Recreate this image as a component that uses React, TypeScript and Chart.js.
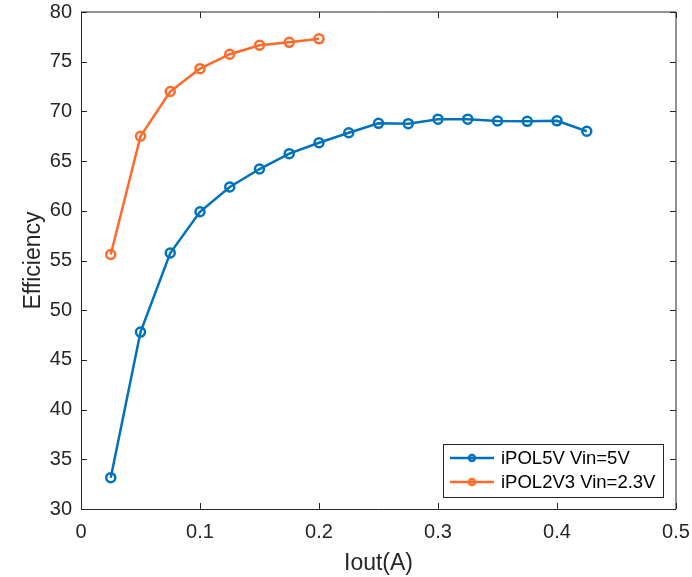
import React, { useEffect, useRef } from "react";
import { Chart, registerables } from "chart.js";

Chart.register(...registerables);

const xBlue = [0.025, 0.05, 0.075, 0.1, 0.125, 0.15, 0.175, 0.2, 0.225, 0.25, 0.275, 0.3, 0.325, 0.35, 0.375, 0.4, 0.425];
const effBlue = [33.15, 47.8, 55.75, 59.9, 62.4, 64.2, 65.75, 66.85, 67.85, 68.8, 68.77, 69.22, 69.22, 69.03, 69.0, 69.05, 68.0];
const xOrange = [0.025, 0.05, 0.075, 0.1, 0.125, 0.15, 0.175, 0.2];
const effOrange = [55.6, 67.5, 72.0, 74.3, 75.75, 76.65, 76.95, 77.3];

const seriesLabels = ["iPOL5V Vin=5V", "iPOL2V3 Vin=2.3V"];
const seriesColors = ["#0072BD", "#FF6A2B"];
const xTicks = [0, 0.1, 0.2, 0.3, 0.4, 0.5];
const yTicks = [30, 35, 40, 45, 50, 55, 60, 65, 70, 75, 80];
const xTitle = "Iout(A)";
const yTitle = "Efficiency";

const FONT = "'Liberation Sans', Arial, Helvetica, sans-serif";
const AX = "#262626";

const boxPlugin = {
  id: "matlabBox",
  afterDraw(chart: any) {
    const { ctx, chartArea } = chart;
    const { left, right, top, bottom } = chartArea;
    const xs = chart.scales.x;
    const ys = chart.scales.y;
    ctx.save();
    ctx.lineWidth = 1;
    ctx.strokeStyle = AX;
    ctx.beginPath();
    ctx.moveTo(Math.round(left) + 0.5, top);
    ctx.lineTo(Math.round(left) + 0.5, Math.round(bottom) + 0.5);
    ctx.lineTo(right, Math.round(bottom) + 0.5);
    ctx.stroke();
    ctx.beginPath();
    ctx.moveTo(left, Math.round(top));
    ctx.lineTo(Math.round(right), Math.round(top));
    ctx.lineTo(Math.round(right), bottom);
    ctx.stroke();
    const tl = 6;
    ctx.beginPath();
    xTicks.forEach((v) => {
      const px = Math.round(xs.getPixelForValue(v)) + 0.5;
      ctx.moveTo(px, bottom);
      ctx.lineTo(px, bottom - tl);
      ctx.moveTo(px, top);
      ctx.lineTo(px, top + tl);
    });
    yTicks.forEach((v) => {
      const py = Math.round(ys.getPixelForValue(v)) + 0.5;
      ctx.moveTo(left, py);
      ctx.lineTo(left + tl, py);
      ctx.moveTo(right, py);
      ctx.lineTo(right - tl, py);
    });
    ctx.stroke();

    const bx = 443.5, by = 444.5, bw = 220, bh = 53;
    ctx.fillStyle = "#ffffff";
    ctx.fillRect(bx, by, bw, bh);
    ctx.strokeStyle = AX;
    ctx.lineWidth = 1;
    ctx.strokeRect(bx, by, bw, bh);
    const rows = [458, 482];
    chart.data.datasets.forEach((ds: any, i: number) => {
      const y = rows[i];
      ctx.strokeStyle = ds.borderColor;
      ctx.lineWidth = 2.5;
      ctx.beginPath();
      ctx.moveTo(450, y);
      ctx.lineTo(494, y);
      ctx.stroke();
      ctx.beginPath();
      ctx.arc(472, y, 3, 0, Math.PI * 2);
      ctx.stroke();
      ctx.fillStyle = "#000000";
      ctx.font = `18.5px ${FONT}`;
      ctx.textBaseline = "middle";
      ctx.textAlign = "left";
      ctx.fillText(ds.label, 501, y + 1);
    });
    ctx.restore();
  },
};

export default function App() {
  const ref = useRef<HTMLCanvasElement | null>(null);
  useEffect(() => {
    document.body.style.margin = "0";
    const canvas = ref.current!;
    const mk = (i: number, xs: number[], ys: number[]) => ({
      label: seriesLabels[i],
      data: xs.map((x, k) => ({ x, y: ys[k] })),
      borderColor: seriesColors[i],
      backgroundColor: "rgba(0,0,0,0)",
      pointBackgroundColor: "rgba(0,0,0,0)",
      pointBorderColor: seriesColors[i],
      borderWidth: 2.5,
      pointRadius: 4.5,
      pointBorderWidth: 2.5,
      tension: 0,
    });
    const chart = new Chart(canvas, {
      type: "line",
      data: {
        datasets: [mk(0, xBlue, effBlue), mk(1, xOrange, effOrange)],
      },
      options: {
        animation: false,
        responsive: false,
        maintainAspectRatio: false,
        events: [],
        layout: { padding: { top: 12, right: 16, bottom: 0, left: 0 } },
        plugins: {
          legend: { display: false },
          tooltip: { enabled: false },
        },
        scales: {
          x: {
            type: "linear",
            min: 0,
            max: 0.5,
            grid: { display: false, drawTicks: false },
            border: { display: false },
            ticks: {
              stepSize: 0.1,
              color: AX,
              padding: 11,
              maxRotation: 0,
              font: { size: 20, family: FONT },
            },
            title: {
              display: true,
              text: xTitle,
              color: AX,
              padding: { top: 0, bottom: 0 },
              font: { size: 23, family: FONT },
            },
            afterFit: (s: any) => {
              s.height = 68;
              s.paddingLeft = 0;
              s.paddingRight = 0;
            },
          },
          y: {
            type: "linear",
            min: 30,
            max: 80,
            grid: { display: false, drawTicks: false },
            border: { display: false },
            ticks: {
              stepSize: 5,
              color: AX,
              padding: 9,
              font: { size: 20, family: FONT },
            },
            title: {
              display: true,
              text: yTitle,
              color: AX,
              padding: { top: 20, bottom: 0 },
              font: { size: 23, family: FONT },
            },
            afterFit: (s: any) => {
              s.width = 81;
              s.paddingTop = 0;
              s.paddingBottom = 0;
            },
          },
        },
      },
      plugins: [boxPlugin],
    });
    return () => chart.destroy();
  }, []);
  return (
    <div style={{ width: 692, height: 577 }}>
      <canvas ref={ref} width={692} height={577} style={{ display: "block", width: 692, height: 577 }} />
    </div>
  );
}
